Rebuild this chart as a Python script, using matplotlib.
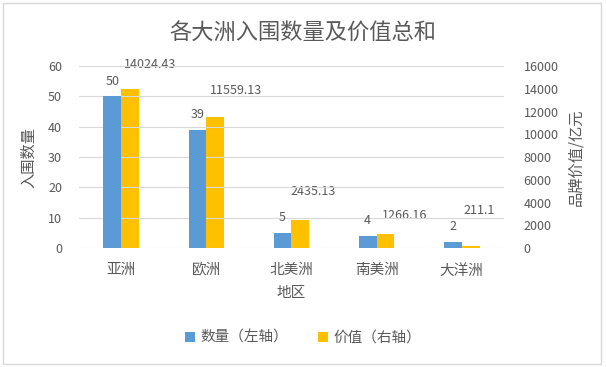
import matplotlib
matplotlib.use('Agg')
import matplotlib.pyplot as plt
import numpy as np
from matplotlib.patches import Rectangle

plt.rcParams['font.family'] = ['Noto Sans CJK SC', 'DejaVu Sans']

regioes = ['亚洲', '欧洲', '北美洲', '南美洲', '大洋洲']
quantidade = [50, 39, 5, 4, 2]
valor = [14024.43, 11559.13, 2435.13, 1266.16, 211.1]
rotulos_valor = ['14024.43', '11559.13', '2435.13', '1266.16', '211.1']

COR_AZUL = '#5B9BD5'
COR_LARANJA = '#FFC000'
COR_TEXTO = '#595959'
COR_GRADE = '#D9D9D9'


def gerar_grafico():
    fig = plt.figure(figsize=(6.06, 3.67), dpi=100)
    ax1 = fig.add_axes([0.130, 0.324, 0.702, 0.496])
    ax2 = ax1.twinx()

    x = np.arange(len(regioes))
    w = 0.21
    b1 = ax1.bar(x - w / 2, quantidade, w, color=COR_AZUL, label='数量（左轴）', zorder=3)
    b2 = ax2.bar(x + w / 2, valor, w, color=COR_LARANJA, label='价值（右轴）', zorder=3)

    ax1.set_xlim(-0.5, len(regioes) - 0.5)
    ax1.set_ylim(0, 60)
    ax1.set_yticks(range(0, 61, 10))
    ax2.set_ylim(0, 16000)
    ax2.set_yticks(range(0, 16001, 2000))

    for ax in (ax1, ax2):
        for s in ax.spines.values():
            s.set_visible(False)
        ax.tick_params(length=0, colors=COR_TEXTO, labelsize=9)
    ax1.tick_params(axis='y', pad=12)
    ax2.tick_params(axis='y', pad=14)
    ax1.tick_params(axis='x', labelsize=10.5, pad=11)
    ax1.yaxis.grid(True, color=COR_GRADE, lw=0.8)
    ax1.set_axisbelow(True)
    ax1.set_zorder(ax2.get_zorder() + 1)
    ax1.patch.set_visible(False)

    ax1.set_xticks(x)
    ax1.set_xticklabels(regioes)
    ax1.set_xlabel('地区', fontsize=10.5, color=COR_TEXTO, labelpad=6)
    ax1.set_ylabel('入围数量', fontsize=11, color=COR_TEXTO, labelpad=8)
    ax2.set_ylabel('品牌价值/亿元', fontsize=11, color=COR_TEXTO, labelpad=6)

    # rotulos das barras azuis
    for rect, q in zip(b1, quantidade):
        ax1.annotate(str(q), (rect.get_x() + rect.get_width() / 2, rect.get_height()),
                     xytext=(0, 11), textcoords='offset points',
                     ha='center', va='center', fontsize=9, color=COR_TEXTO)

    # rotulos das barras laranjas (deslocados como no original)
    desloc = [(14, 17), (15, 19), (9, 21), (14, 13), (6, 25)]
    for rect, txt, (dx, dy) in zip(b2, rotulos_valor, desloc):
        ax2.annotate(txt, (rect.get_x() + rect.get_width() / 2, rect.get_height()),
                     xytext=(dx, dy), textcoords='offset points',
                     ha='center', va='center', fontsize=9, color=COR_TEXTO)

    fig.text(0.5, 1 - 33 / 367, '各大洲入围数量及价值总和', ha='center', va='center',
             fontsize=16, color=COR_TEXTO)

    fig.legend(handles=[b1, b2], loc='center', bbox_to_anchor=(0.5, 1 - 338 / 367),
               ncol=2, frameon=False, fontsize=10.5, handlelength=0.7, handleheight=0.7,
               columnspacing=2.0, handletextpad=0.4, labelcolor=COR_TEXTO)

    fig.patches.append(Rectangle((3 / 606, 3 / 367), 598 / 606, 361 / 367,
                                 transform=fig.transFigure, fill=False,
                                 edgecolor=COR_GRADE, lw=1))

    fig.savefig('out.png', dpi=100)


if __name__ == '__main__':
    gerar_grafico()
